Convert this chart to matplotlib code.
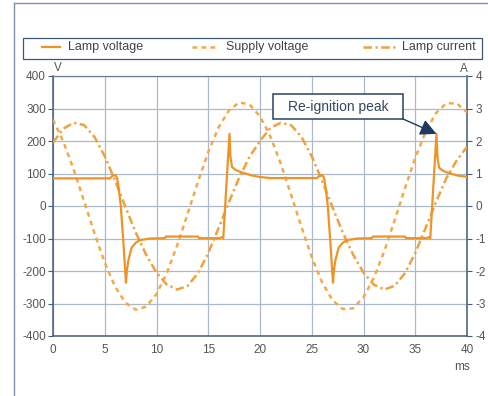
import matplotlib
matplotlib.use('agg')
import matplotlib.pyplot as plt
from matplotlib.lines import Line2D
from matplotlib.patches import Rectangle

plt.rcParams['font.family'] = ['Liberation Sans', 'DejaVu Sans']
plt.rcParams['axes.unicode_minus'] = False

# time axis for the two sine-like curves (ms)
t_ms = list(range(0, 41))

# supply voltage (V), read every 1 ms
supply_v = [266, 198, 112, 15, -83, -174, -248, -298, -319, -310,
            -271, -206, -121, -25, 74, 166, 242, 294, 319, 312,
            276, 214, 131, 35, -64, -157, -235, -290, -317, -315,
            -281, -221, -140, -45, 54, 148, 228, 286, 316, 316, 288]

# lamp current (A x 100, plotted on the V scale), read every 1 ms
lamp_i = [195, 238, 256, 249, 213, 153, 78, -3, -82, -150,
          -205, -242, -257, -246, -207, -145, -68, 12, 88, 152,
          200, 240, 256, 249, 213, 153, 78, -3, -82, -150,
          -205, -242, -257, -246, -207, -145, -68, 12, 85, 140, 182]

# lamp voltage (V), irregular time steps around the switching edges
lamp_t = [0, 5.5, 5.75, 6.05, 6.2, 6.35, 6.55, 6.8, 7.05, 7.15, 7.3, 7.6, 8.0, 8.4, 9.4,
          10.8, 10.9, 14.0, 14.1, 16.1, 16.3, 16.45, 17.05, 17.15, 17.3, 17.6, 18.0,
          18.6, 19.2, 20.0, 21.0,
          25.5, 25.75, 26.05, 26.2, 26.35, 26.55, 26.8, 27.05, 27.15, 27.3, 27.6, 28.0,
          28.4, 29.4, 30.8, 30.9, 34.0, 34.1, 36.1, 36.3, 36.45, 37.05, 37.15, 37.3,
          37.6, 38.0, 38.6, 39.2, 40.0]
lamp_v = [85, 85, 93, 95, 85, 55, 0, -112, -236, -195, -165, -128, -113, -105, -100,
          -99, -94, -94, -99, -99, -96, -99, 222, 150, 120, 112, 106,
          100, 94, 89, 86,
          86, 94, 95, 85, 55, 0, -112, -236, -195, -165, -128, -113,
          -105, -100, -99, -94, -94, -99, -99, -96, -99, 222, 150, 118,
          110, 104, 98, 93, 90]

x_ticks = [0, 5, 10, 15, 20, 25, 30, 35, 40]
v_ticks = [400, 300, 200, 100, 0, -100, -200, -300, -400]
a_ticks = [4, 3, 2, 1, 0, -1, -2, -3, -4]
legend_labels = ['Lamp voltage', 'Supply voltage', 'Lamp current']
peak_note = 'Re-ignition peak'

W, H = 488, 396
c_solid = '#EE9424'
c_dash = '#F2AA48'
c_dashdot = '#EFA23C'
grid_c = '#ABB9CB'
spine_c = '#455B78'
text_c = '#555555'

def fx(px):
    return px / W

def fy(py):
    return 1 - py / H

fig = plt.figure(figsize=(W / 100, H / 100), dpi=100)
fig.patch.set_facecolor('white')

# outer frame (left and top edges only visible)
fig.add_artist(Line2D([fx(14), fx(14)], [fy(3), fy(396)], color='#7F8FA8', lw=1.0))
fig.add_artist(Line2D([fx(14), fx(488)], [fy(3), fy(3)], color='#7F8FA8', lw=1.0))

ax = fig.add_axes([fx(53), fy(336), (467 - 53) / W, (336 - 76) / H])
ax.set_xlim(0, 40)
ax.set_ylim(-400, 400)

ax.plot(t_ms, supply_v, color=c_dash, lw=1.8, dashes=(1.9, 1.7), zorder=3)
ax.plot(t_ms, lamp_i, color=c_dashdot, lw=1.8, dashes=(3.4, 1.4, 0.9, 1.4), zorder=3)
ax.plot(lamp_t, lamp_v, color=c_solid, lw=1.6, zorder=4)

ax.set_xticks(x_ticks)
ax.set_yticks(v_ticks)
ax.grid(True, color=grid_c, lw=0.9)
ax.set_axisbelow(True)
for side in ['left', 'bottom', 'right']:
    ax.spines[side].set_color(spine_c)
    ax.spines[side].set_linewidth(1.1)
ax.spines['top'].set_color('#6A7D96')
ax.spines['top'].set_linewidth(0.9)
ax.tick_params(axis='y', length=3.5, width=0.8, color=spine_c, labelsize=8.5,
               labelcolor=text_c, pad=1.5)
ax.tick_params(axis='x', length=0, labelsize=8.5, labelcolor=text_c, pad=6)

ax2 = ax.twinx()
ax2.set_ylim(-4, 4)
ax2.set_yticks(a_ticks)
ax2.tick_params(axis='y', length=3.5, width=0.8, color=spine_c, labelsize=8.5,
                labelcolor=text_c, pad=2.5)
for s in ax2.spines.values():
    s.set_visible(False)

# unit labels
fig.text(fx(58), fy(68), 'V', fontsize=8.5, color=text_c, ha='center', va='center')
fig.text(fx(464), fy(69), 'A', fontsize=8.5, color=text_c, ha='center', va='center')
fig.text(fx(462), fy(367), 'ms', fontsize=8.5, color=text_c, ha='center', va='center')

# legend box across the top
fig.add_artist(Rectangle((fx(22.7), fy(59)), (481.7 - 22.7) / W, (59 - 37.7) / H,
                         transform=fig.transFigure, fill=False,
                         edgecolor='#3F5670', lw=0.9))
ly = fy(47)
fig.add_artist(Line2D([fx(42), fx(60)], [ly, ly], color=c_solid, lw=1.6))
fig.add_artist(Line2D([fx(192), fx(219)], [ly, ly], color=c_dash, lw=1.8, dashes=(1.9, 1.7)))
fig.add_artist(Line2D([fx(363), fx(397)], [ly, ly], color=c_dashdot, lw=1.8,
                      dashes=(3.4, 1.4, 0.9, 1.4)))
for x0, lab in zip([68, 226, 402], legend_labels):
    fig.text(fx(x0), ly, lab, fontsize=9, color='#444444', ha='left', va='center')

# annotation box, label and arrow to the second peak
ax.add_patch(Rectangle((21.23, 267.7), 33.85 - 21.23, 344.6 - 267.7, fc='white',
                       ec='#2B4162', lw=1.1, zorder=6))
ax.text(27.54, 306, peak_note, ha='center', va='center', fontsize=10,
        color='#33475F', zorder=7)
ax.annotate('', xy=(37.05, 222), xytext=(33.8, 268), textcoords='data',
            arrowprops=dict(arrowstyle='-|>,head_length=0.7,head_width=0.35',
                            color='#1F3A60', lw=1.0, mutation_scale=14,
                            shrinkA=0, shrinkB=0),
            zorder=6)

fig.savefig('out.png', dpi=100)
